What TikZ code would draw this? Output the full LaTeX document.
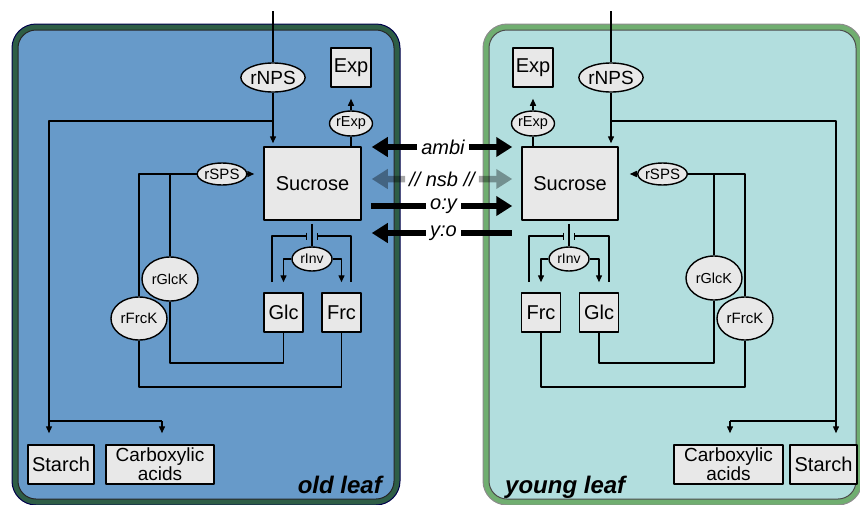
\documentclass[tikz,border=0pt]{standalone}
\usepackage{fontspec}
\setmainfont{Liberation Sans}
\usepackage{tikz}
\usetikzlibrary{arrows.meta,shapes.geometric}
\definecolor{oldblue}{RGB}{103,154,201}
\definecolor{oldgreen}{RGB}{46,94,70}
\definecolor{youngcyan}{RGB}{178,222,222}
\definecolor{younggreen}{RGB}{112,174,112}
\definecolor{boxgray}{RGB}{232,232,232}
\tikzset{
  every picture/.style={line join=round},
  pool/.style={draw, fill=boxgray, line width=1.5pt, minimum width=39pt, minimum height=39pt, inner sep=0pt, font=\fontsize{20}{20}\selectfont},
  rxn/.style={ellipse, draw, fill=boxgray, line width=1.4pt, inner sep=0pt, font=\fontsize{14.5}{15}\selectfont},
  link/.style={line width=1.4pt},
  flow/.style={line width=1.4pt, -{Triangle[length=7pt,width=6pt]}},
  inh/.style={line width=1.4pt, -{Bar[width=7pt]}},
  exch/.style={line width=6.5pt, -{Triangle[length=16pt,width=19pt]}},
  exchbar/.style={line width=6.5pt},
  lab/.style={inner sep=4pt, font=\itshape\fontsize{20}{20}\selectfont},
  leaf/.style={inner sep=0pt, font=\bfseries\itshape\fontsize{24}{24}\selectfont},
}

\begin{document}
\begin{tikzpicture}[x=1pt,y=-1pt]
\useasboundingbox (0,0) rectangle (860,504);
% leaves
\draw[fill=oldgreen, draw=black!70!blue, line width=1pt, rounded corners=24pt] (12,24) rectangle (400,505);
\draw[fill=oldblue, draw=black!85, line width=1pt, rounded corners=18pt] (18,30) rectangle (394,499);
\draw[fill=younggreen, draw=black!45, line width=1pt, rounded corners=24pt] (483,24) rectangle (862,505);
\draw[fill=youngcyan, draw=black!70, line width=1pt, rounded corners=18pt] (489,30) rectangle (856,499);

% old leaf
\node[rxn, minimum width=57pt, minimum height=29pt, font=\fontsize{19}{19}\selectfont] (npsL) at (273,77.5) {rNPS};
\node[pool, minimum width=40pt] (expL) at (351,67.5) {Exp};
\node[rxn, minimum width=43pt, minimum height=25pt] (rexpL) at (351,123.5) {rExp};
\node[pool, minimum width=97pt, minimum height=73pt] (sucL) at (312.5,183.5) {Sucrose};
\node[rxn, minimum width=42pt, minimum height=22pt, font=\fontsize{15}{15}\selectfont] (spsL) at (222,174) {rSPS};
\node[rxn, minimum width=40pt, minimum height=24pt, font=\fontsize{14}{14}\selectfont] (invL) at (312,259) {rInv};
\node[pool] (glcL) at (283.5,312.5) {Glc};
\node[pool] (frcL) at (341.5,312.5) {Frc};
\node[rxn, minimum width=56pt, minimum height=44pt] (glckL) at (170,279) {rGlcK};
\node[rxn, minimum width=56pt, minimum height=43pt, font=\fontsize{15}{15}\selectfont] (frckL) at (139,318.5) {rFrcK};
\node[pool, minimum width=66pt] (starchL) at (61,464.5) {Starch};
\node[pool, minimum width=108pt, align=center, font=\fontsize{19}{19}\selectfont] (carbL) at (160,464.5) {Carboxylic\\acids};

\coordinate (topL) at (273,11);
\coordinate (brL) at (273,121);
\coordinate (stL) at (49,421);
\coordinate (caL) at (162,421);
\coordinate (spsbL) at (170,174);
\coordinate (gbL) at (170,363);
\coordinate (fbL) at (139,387);
\coordinate (stemL) at (312,236);
\coordinate (ihgL) at (272,282);
\coordinate (ihfL) at (351,282);
\draw[link] (topL) -- (npsL.north);
\draw[flow, shorten >=3pt] (npsL.south) -- (sucL.north -| npsL);
\draw[link] (brL) -| (stL) -- (caL);
\draw[flow, shorten >=11pt] (stL) -- (stL |- starchL.north);
\draw[flow, shorten >=11pt] (caL) -- (caL |- carbL.north);
\draw[link] (rexpL.south) -- (rexpL |- sucL.north);
\draw[flow, shorten >=11pt] (rexpL.north) -- (expL.south);
\draw[flow, shorten >=9pt] (spsL.east) -- (spsL -| sucL.west);
\draw[link] (spsL.west) -| (frckL.north);
\draw[link] (spsbL) -- (glckL.north);
\draw[link] (glckL.south) -- (gbL) -| (glcL.south);
\draw[link] (frckL.south) -- (fbL) -| (frcL.south);
\draw[link, shorten <=3pt] (sucL.south -| invL) -- (invL.north);
\draw[inh, shorten >=5pt] (ihgL) |- (stemL);
\draw[inh, shorten >=5pt] (ihfL) |- (stemL);
\draw[flow, shorten >=10pt] (invL.west) -| (glcL.north);
\draw[flow, shorten >=10pt] (invL.east) -| (frcL.north);
\node[leaf, anchor=base east] (oldlab) at (382,493) {old leaf};

% young leaf
\node[rxn, minimum width=57pt, minimum height=29pt, font=\fontsize{19}{19}\selectfont] (npsR) at (611,77.5) {rNPS};
\node[pool, minimum width=40pt] (expR) at (533,67.5) {Exp};
\node[rxn, minimum width=43pt, minimum height=25pt] (rexpR) at (533,123.5) {rExp};
\node[pool, minimum width=96pt, minimum height=73pt] (sucR) at (570,183.5) {Sucrose};
\node[rxn, minimum width=42pt, minimum height=22pt, font=\fontsize{15}{15}\selectfont] (spsR) at (662.5,174) {rSPS};
\node[rxn, minimum width=40pt, minimum height=24pt, font=\fontsize{14}{14}\selectfont] (invR) at (569,259) {rInv};
\node[pool] (frcR) at (541,312.5) {Frc};
\node[pool] (glcR) at (599,312.5) {Glc};
\node[rxn, minimum width=56pt, minimum height=44pt] (glckR) at (714,278) {rGlcK};
\node[rxn, minimum width=56pt, minimum height=43pt, font=\fontsize{15}{15}\selectfont] (frckR) at (745,318.5) {rFrcK};
\node[pool, minimum width=109pt, align=center, font=\fontsize{19}{19}\selectfont] (carbR) at (728.5,464.5) {Carboxylic\\acids};
\node[pool, minimum width=67pt] (starchR) at (823.5,464.5) {Starch};

\coordinate (topR) at (611,11);
\coordinate (brR) at (611,121);
\coordinate (stR) at (836,421);
\coordinate (caR) at (730,421);
\coordinate (spsbR) at (714,174);
\coordinate (gbR) at (714,363);
\coordinate (fbR) at (745,387);
\coordinate (stemR) at (569,236);
\coordinate (ihfR) at (529,282);
\coordinate (ihgR) at (609,282);
\draw[link] (topR) -- (npsR.north);
\draw[flow, shorten >=3pt] (npsR.south) -- (sucR.north -| npsR);
\draw[link] (brR) -| (stR) -- (caR);
\draw[flow, shorten >=11pt] (stR) -- (stR |- starchR.north);
\draw[flow, shorten >=11pt] (caR) -- (caR |- carbR.north);
\draw[link] (rexpR.south) -- (rexpR |- sucR.north);
\draw[flow, shorten >=11pt] (rexpR.north) -- (expR.south);
\draw[flow, shorten >=11pt] (spsR.west) -- (spsR -| sucR.east);
\draw[link] (spsR.east) -| (frckR.north);
\draw[link] (spsbR) -- (glckR.north);
\draw[link] (glckR.south) -- (gbR) -| (glcR.south);
\draw[link] (frckR.south) -- (fbR) -| (frcR.south);
\draw[link, shorten <=3pt] (sucR.south -| invR) -- (invR.north);
\draw[inh, shorten >=5pt] (ihfR) |- (stemR);
\draw[inh, shorten >=5pt] (ihgR) |- (stemR);
\draw[flow, shorten >=10pt] (invR.west) -| (frcR.north);
\draw[flow, shorten >=10pt] (invR.east) -| (glcR.north);
\node[leaf, anchor=base west] (younglab) at (505,493) {young leaf};

% exchange between leaves
\node[lab] (ambi) at (443,147) {ambi};
\node[lab] (nsb) at (442,179) {// nsb //};
\node[lab] (oy) at (443.5,206) {o:y};
\node[lab] (yo) at (443.5,233) {y:o};
\draw[exch, shorten >=10pt] (ambi.west) -- (ambi.west -| sucL.east);
\draw[exch, shorten >=9pt] (ambi.east) -- (ambi.east -| sucR.west);
\begin{scope}[transparency group, opacity=0.35]
\draw[exch, shorten >=10pt] (nsb.west) -- (nsb.west -| sucL.east);
\draw[exch, shorten >=9pt] (nsb.east) -- (nsb.east -| sucR.west);
\end{scope}
\draw[exchbar, shorten <=9pt] (oy.west -| sucL.east) -- (oy.west);
\draw[exch, shorten >=9pt] (oy.east) -- (oy.east -| sucR.west);
\draw[exch, shorten >=10pt] (yo.west) -- (yo.west -| sucL.east);
\draw[exchbar, shorten >=9pt] (yo.east) -- (yo.east -| sucR.west);
\end{tikzpicture}
\end{document}
